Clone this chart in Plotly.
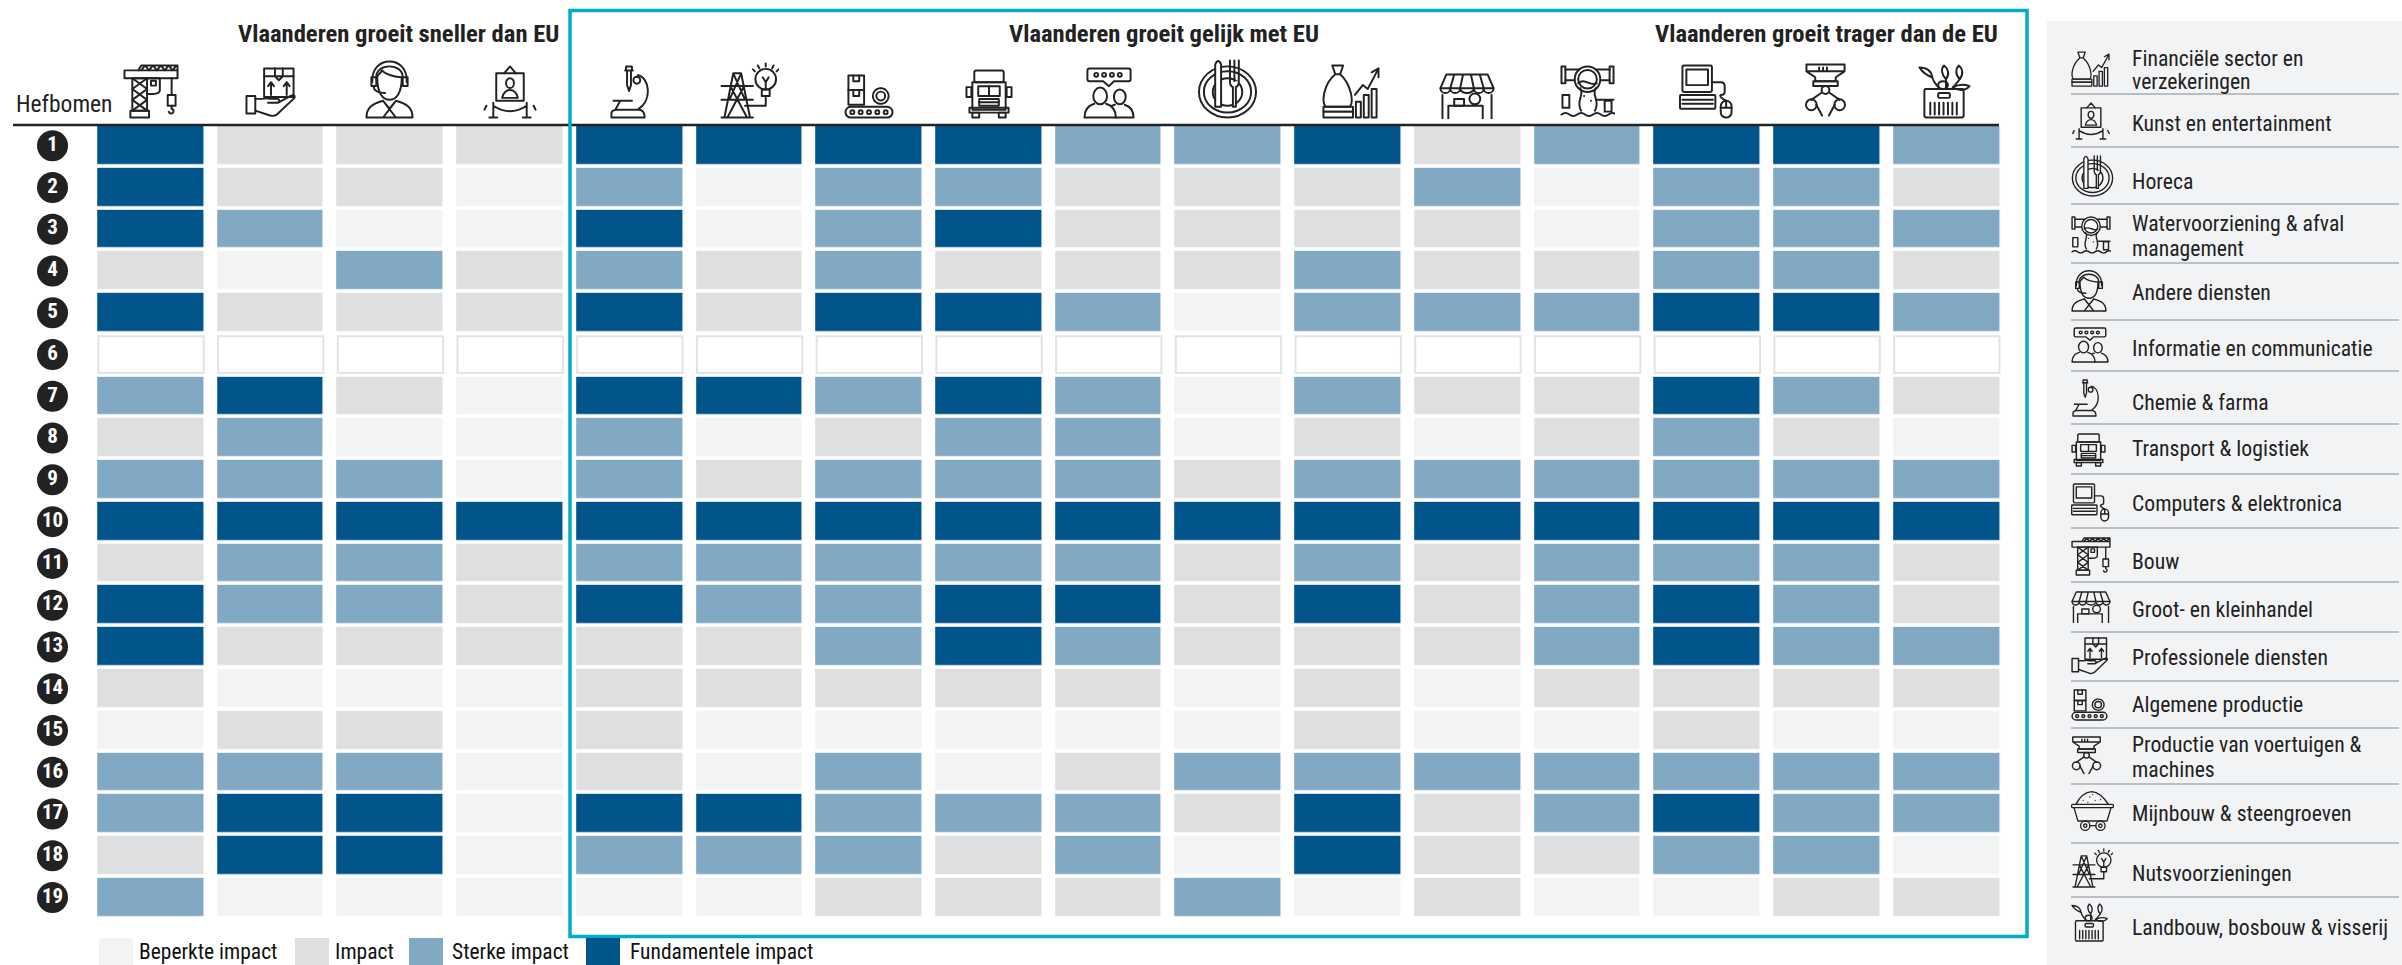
import base64
import plotly.graph_objects as go

W, H = 2402, 965
NARROW = "Roboto, sans-serif"

# ---------------------------- data ----------------------------
rows = [str(i) for i in range(1, 20)]
levels = ["Beperkte impact", "Impact", "Sterke impact", "Fundamentele impact"]
level_colors = ["#F2F3F5", "#DEDFE1", "#82A9C3", "#01558B"]

bouw = [4, 4, 4, 2, 4, None, 3, 2, 3, 4, 2, 4, 4, 2, 1, 3, 3, 2, 3]
professioneel = [2, 2, 3, 1, 2, None, 4, 3, 3, 4, 3, 3, 2, 1, 2, 3, 4, 4, 1]
andere = [2, 2, 1, 3, 2, None, 2, 1, 3, 4, 3, 3, 2, 1, 2, 3, 4, 4, 1]
kunst = [2, 1, 1, 2, 2, None, 1, 1, 1, 4, 2, 2, 2, 1, 1, 1, 1, 1, 1]
chemie = [4, 3, 4, 3, 4, None, 4, 3, 3, 4, 3, 4, 2, 2, 2, 2, 4, 3, 1]
nuts = [4, 1, 1, 2, 2, None, 4, 1, 2, 4, 3, 3, 2, 2, 1, 1, 4, 3, 1]
algemeen = [4, 3, 3, 3, 4, None, 3, 2, 3, 4, 3, 3, 3, 2, 1, 3, 3, 3, 2]
transport = [4, 3, 4, 2, 4, None, 4, 3, 3, 4, 3, 4, 4, 2, 1, 1, 3, 2, 2]
informatie = [3, 2, 2, 2, 3, None, 3, 3, 3, 4, 3, 4, 3, 2, 1, 2, 3, 3, 2]
horeca = [3, 2, 2, 2, 1, None, 1, 1, 2, 4, 2, 2, 2, 1, 1, 3, 2, 1, 3]
financieel = [4, 2, 2, 3, 3, None, 3, 2, 3, 4, 3, 4, 2, 2, 2, 3, 4, 4, 1]
handel = [2, 3, 2, 2, 3, None, 2, 1, 3, 4, 2, 2, 2, 1, 1, 3, 2, 2, 2]
water = [3, 1, 1, 2, 3, None, 2, 2, 3, 4, 3, 3, 3, 2, 1, 3, 3, 2, 1]
computers = [4, 3, 3, 3, 4, None, 4, 3, 3, 4, 3, 4, 4, 2, 2, 3, 4, 3, 1]
voertuigen = [4, 3, 3, 3, 4, None, 3, 2, 3, 4, 3, 3, 3, 2, 1, 3, 3, 3, 2]
landbouw = [3, 2, 3, 2, 3, None, 2, 1, 3, 4, 2, 2, 3, 2, 1, 3, 3, 1, 2]

columns = [bouw, professioneel, andere, kunst, chemie, nuts, algemeen, transport,
           informatie, horeca, financieel, handel, water, computers, voertuigen, landbouw]
col_ids = list(range(16))
group_titles = ["Vlaanderen groeit sneller dan EU", "Vlaanderen groeit gelijk met EU",
                "Vlaanderen groeit trager dan de EU"]
side_labels = [
    "Financiële sector en", "verzekeringen", "Kunst en entertainment", "Horeca",
    "Watervoorziening & afval", "management", "Andere diensten", "Informatie en communicatie",
    "Chemie & farma", "Transport & logistiek", "Computers & elektronica", "Bouw",
    "Groot- en kleinhandel", "Professionele diensten", "Algemene productie",
    "Productie van voertuigen &", "machines", "Mijnbouw & steengroeven", "Nutsvoorzieningen",
    "Landbouw, bosbouw & visserij",
]

# ---------------------------- icons (line art) ----------------------------
ICONS = {
"bouw": (112, 110, '<path d="M2 12H110V28H2zM30 12L36 2H110V12M36 12L44 2L52 12L60 2L68 12L76 2L84 12L92 2L100 12L108 2"/><rect x="18" y="28" width="30" height="66"/><path d="M18 28L48 50M48 28L18 50M18 50L48 72M48 50L18 72M18 72L48 94M48 72L18 94"/><rect x="14" y="94" width="38" height="14"/><path d="M48 28H74V52Q74 60 60 60H48"/><rect x="56" y="33" width="10" height="10"/><path d="M98 28V62"/><rect x="90" y="62" width="16" height="22"/><path d="M98 84V90a5 5 0 1 1 -6 6"/>'),
"prof": (104, 102, '<rect x="38" y="2" width="60" height="58"/><path d="M38 18H98M60 2V18M76 2V18M60 18L68 26L76 18M52 56V32M46 38L52 30L58 38M84 56V32M78 38L84 30L90 38"/><rect x="2" y="58" width="18" height="36"/><path d="M20 64H34Q42 62 50 64H66Q72 66 66 72H46M66 72L92 58Q102 54 100 62L64 96Q58 100 50 98L20 88"/>'),
"andere": (98, 120, '<path d="M14 46C10 -10 88 -10 84 46M22 38C20 6 78 6 76 38"/><path d="M24 36C24 70 36 82 49 82C62 82 74 70 74 36C60 36 40 30 34 22C30 30 24 30 24 36z"/><rect x="12" y="36" width="10" height="18"/><rect x="76" y="36" width="10" height="18"/><path d="M16 54Q18 68 40 68"/><path d="M2 118C2 98 14 90 36 84L49 100L62 84C84 90 96 98 96 118zM36 84L62 118M62 84L36 118"/>'),
"kunst": (112, 108, '<rect x="28" y="16" width="56" height="56"/><path d="M44 16L56 2L68 16"/><ellipse cx="56" cy="36" rx="8" ry="10"/><path d="M40 66Q44 50 56 50Q68 50 72 66z"/><path d="M22 76V106M14 106H30M90 76V106M82 106H98M22 82Q56 104 90 82M8 82L4 90M104 82L108 90"/>'),
"chemie": (78, 108, '<path d="M32 2H44V10H32zM30 10H46M34 10V40L38 52L42 40V10"/><circle cx="54" cy="30" r="7"/><path d="M56 20C80 24 86 70 58 88M2 106V96Q4 90 14 90H58Q70 90 70 106zM6 72H44M20 72L10 90"/>'),
"nuts": (118, 114, '<path d="M26 22H42L60 112M26 22L8 112M2 48H66M2 76H66M26 22L50 76M42 22L18 76M20 48L54 112M48 48L14 112M2 112H66"/><circle cx="92" cy="34" r="21"/><path d="M84 55H100V68H84zM92 68V88H50M86 30L92 40L98 30M92 40V55M92 2V8M76 6L79 12M108 6L105 12M66 14L70 18M118 14L114 18"/>'),
"algemeen": (100, 90, '<rect x="8" y="2" width="32" height="30"/><rect x="8" y="32" width="32" height="30"/><path d="M18 2V14H30V2M18 32V44H30V32"/><circle cx="74" cy="44" r="9"/><circle cx="74" cy="44" r="16" stroke-dasharray="6 3"/><rect x="2" y="66" width="96" height="22" rx="11"/><circle cx="16" cy="77" r="4"/><circle cx="33" cy="77" r="4"/><circle cx="50" cy="77" r="4"/><circle cx="67" cy="77" r="4"/><circle cx="84" cy="77" r="4"/>'),
"transport": (96, 100, '<rect x="18" y="2" width="60" height="24" rx="4"/><rect x="14" y="26" width="68" height="56"/><rect x="26" y="34" width="44" height="20"/><path d="M48 34V54"/><rect x="28" y="60" width="40" height="14"/><path d="M28 67H68"/><rect x="8" y="78" width="80" height="10"/><rect x="14" y="88" width="14" height="10"/><rect x="68" y="88" width="14" height="10"/><rect x="2" y="36" width="10" height="20"/><rect x="84" y="36" width="10" height="20"/>'),
"info": (104, 104, '<path d="M12 2H92Q96 2 96 6V24Q96 28 92 28H62L52 38L40 28H12Q8 28 8 24V6Q8 2 12 2z"/><circle cx="26" cy="15" r="4"/><circle cx="42" cy="15" r="4"/><circle cx="58" cy="15" r="4"/><circle cx="74" cy="15" r="4"/><ellipse cx="34" cy="58" rx="14" ry="17"/><path d="M2 102Q2 80 22 74M46 74Q66 80 66 102H2"/><ellipse cx="74" cy="60" rx="12" ry="15"/><path d="M66 102H102Q102 82 84 76M64 76L58 78"/>'),
"horeca": (122, 120, '<ellipse cx="61" cy="66" rx="58" ry="52"/><ellipse cx="61" cy="66" rx="48" ry="42"/><ellipse cx="61" cy="66" rx="30" ry="28"/><path d="M36 96V10Q42 -4 48 10V96zM66 2V44M84 2V44M75 2V44M66 44Q66 54 72 56V96H78V56Q84 54 84 44" fill="#ffffff"/>'),
"fin": (116, 114, '<path d="M20 6H42L36 24H26zM26 24C2 44 -2 80 6 90H56C64 80 58 44 36 24"/><rect x="2" y="90" width="60" height="10"/><rect x="2" y="100" width="60" height="12"/><rect x="68" y="80" width="10" height="32"/><rect x="84" y="66" width="10" height="46"/><rect x="100" y="54" width="10" height="58"/><path d="M66 66L82 46L92 54L112 16M100 20L114 12L114 30"/>'),
"groot": (112, 92, '<path d="M14 2H98L110 30H2zM30 2L22 30M48 2L42 30M64 2L70 30M82 2L90 30"/><path d="M2 30a10 10 0 0 0 20 0a10 10 0 0 0 20 0a14 10 0 0 0 28 0a10 10 0 0 0 20 0a10 10 0 0 0 20 0"/><path d="M6 44V92M106 44V92M18 92V66H88V92"/><rect x="30" y="52" width="20" height="14"/><circle cx="72" cy="52" r="11"/>'),
"water": (110, 108, '<rect x="2" y="2" width="8" height="34"/><rect x="100" y="2" width="8" height="34"/><path d="M10 8H100M10 30H100"/><circle cx="55" cy="28" r="26" fill="#ffffff"/><circle cx="55" cy="28" r="19"/><path d="M36 36C50 24 60 44 74 36M40 46C50 60 30 72 42 92M72 46C62 60 82 72 70 92M48 62h.1M62 72h.1"/><rect x="4" y="60" width="14" height="26"/><rect x="90" y="72" width="14" height="22"/><path d="M2 100q8 -6 16 0t16 0t16 0t16 0t16 0t16 0t16 0M76 70H108"/>'),
"computers": (112, 110, '<rect x="6" y="2" width="60" height="54" rx="3"/><rect x="14" y="10" width="44" height="32"/><rect x="1" y="62" width="72" height="28" rx="2"/><path d="M6 72H68M6 80H68" stroke-dasharray="4 2"/><path d="M66 36H84Q92 36 92 44V56Q92 62 84 62Q80 66 95 74"/><rect x="84" y="74" width="22" height="34" rx="11"/><path d="M84 88H106M95 74V88"/>'),
"voertuigen": (86, 112, '<path d="M4 2H82V16L64 28V36H22V28L4 16zM30 8V14M38 8V14M46 8V14M4 16H82"/><rect x="18" y="36" width="50" height="10"/><circle cx="43" cy="54" r="8"/><path d="M34 60L14 74M52 60L72 74M24 84L36 106M62 84L50 106"/><circle cx="14" cy="84" r="11"/><circle cx="72" cy="84" r="11"/>'),
"landbouw": (108, 110, '<rect x="12" y="50" width="80" height="58" rx="3"/><rect x="40" y="58" width="24" height="10" rx="3"/><path d="M24 78V102M33 78V102M42 78V102M51 78V102M60 78V102M69 78V102M78 78V102"/><path d="M44 50C34 40 30 34 28 26M56 50V30M68 50C74 42 78 38 84 30"/><path d="M28 26C10 20 6 12 2 6C16 6 26 12 28 26zM56 30C46 20 46 8 52 2C60 8 64 20 56 30zM84 30C74 20 76 8 82 2C90 8 92 20 84 30zM70 46C82 40 94 40 104 44C96 54 80 54 70 46z"/><ellipse cx="50" cy="42" rx="10" ry="8"/>'),
"mijn": (128, 124, '<path d="M14 42C20 30 36 6 62 4C86 6 104 30 112 42M36 30h.1M56 20h.1M72 30h.1M88 28h.1M50 36h.1M64 12h.1"/><rect x="1" y="42" width="126" height="10" rx="3"/><path d="M8 52L20 92H108L120 52"/><circle cx="42" cy="106" r="14"/><circle cx="42" cy="106" r="5"/><circle cx="88" cy="106" r="14"/><circle cx="88" cy="106" r="5"/><path d="M56 106H74"/>'),
}

def icon_uri(name):
    w, h, body = ICONS[name]
    svg = (f'<svg xmlns="http://www.w3.org/2000/svg" width="{w*2}" height="{h*2}" viewBox="-1 -1 {w+2} {h+2}" '
           f'preserveAspectRatio="none"><g fill="none" stroke="#222222" stroke-width="4" '
           f'stroke-linejoin="round" stroke-linecap="round">{body}</g></svg>')
    return "data:image/svg+xml;base64," + base64.b64encode(svg.encode()).decode()

top_icons = [("bouw", 123, 179, 64, 119), ("prof", 245, 297, 67, 118), ("andere", 365, 414, 59, 119),
             ("kunst", 482, 538, 65, 119), ("chemie", 610, 649, 65, 119), ("nuts", 720, 779, 62, 119),
             ("algemeen", 844, 894, 74, 119), ("transport", 965, 1013, 69, 119), ("info", 1083, 1135, 67, 119),
             ("horeca", 1197, 1258, 59, 119), ("fin", 1322, 1380, 62, 119), ("groot", 1439, 1495, 73, 119),
             ("water", 1560, 1615, 65, 119), ("computers", 1679, 1735, 64, 119), ("voertuigen", 1804, 1847, 63, 119),
             ("landbouw", 1918, 1972, 64, 119)]
side_icons = [("fin", 2071, 2110, 50, 87), ("kunst", 2071, 2111, 102, 140), ("horeca", 2071, 2114, 155, 197),
              ("water", 2071, 2111, 216, 255), ("andere", 2071, 2107, 269, 312), ("info", 2071, 2109, 327, 363),
              ("chemie", 2072, 2099, 379, 417), ("transport", 2071, 2106, 433, 467), ("computers", 2071, 2111, 483, 522),
              ("bouw", 2071, 2111, 537, 576), ("groot", 2071, 2111, 591, 623), ("prof", 2071, 2109, 637, 675),
              ("algemeen", 2071, 2108, 689, 721), ("voertuigen", 2071, 2102, 736, 776), ("mijn", 2071, 2114, 790, 832),
              ("nuts", 2072, 2113, 848, 888), ("landbouw", 2071, 2109, 903, 942)]

# ---------------------------- page geometry ----------------------------
def px(x): return x / W
def py(y): return 1 - y / H
COL0, COL_STEP = 151.0, 119.72
ROW0, ROW_STEP = 145.7, 41.77
XRANGE = [(0 - COL0) / COL_STEP, (W - COL0) / COL_STEP]
YRANGE = [(H - ROW0) / ROW_STEP, (0 - ROW0) / ROW_STEP]
label_x = (52.5 - COL0) / COL_STEP

fig = go.Figure()

z = [[col[r] for col in columns] for r in range(len(rows))]
n = len(level_colors)
colorscale = []
for i, c in enumerate(level_colors):
    colorscale += [[i / n, c], [(i + 1) / n, c]]
fig.add_trace(go.Heatmap(z=z, x=col_ids, y=list(range(len(rows))), zmin=0.5, zmax=4.5,
                         colorscale=colorscale, showscale=False, xgap=13.7, ygap=3.7,
                         hoverongaps=False))
fig.add_trace(go.Scatter(x=[label_x] * len(rows), y=list(range(len(rows))), mode="markers+text",
                         text=rows, textposition="middle center",
                         textfont=dict(family=NARROW, size=21, color="#FFFFFF", weight="bold"),
                         marker=dict(size=31, color="#222222", line=dict(width=0)),
                         showlegend=False, cliponaxis=False))

shapes = []
# side panel
shapes.append(dict(type="rect", xref="paper", yref="paper", layer="below", x0=px(2047), x1=1, y0=py(21), y1=0,
                   fillcolor="#F2F3F5", line=dict(width=0)))
for y in [94, 147, 204, 263, 320, 371, 424, 474, 528, 582, 632, 681, 728, 784, 843, 897]:
    shapes.append(dict(type="line", xref="paper", yref="paper", x0=px(2071), x1=px(2399), y0=py(y), y1=py(y),
                       line=dict(color="#A9ACB2", width=1.5)))
# empty row 6
for i in col_ids:
    shapes.append(dict(type="rect", xref="x", yref="y", x0=i - 0.44, x1=i + 0.44, y0=5 - 0.44, y1=5 + 0.44,
                       fillcolor="#FFFFFF", line=dict(color="#E2E3E5", width=2)))
# header rule and group box
shapes.append(dict(type="line", xref="paper", yref="paper", x0=px(13), x1=px(1999), y0=py(125), y1=py(125),
                   line=dict(color="#222222", width=2.5)))
shapes.append(dict(type="rect", xref="paper", yref="paper", x0=px(570), x1=px(2027), y0=py(10.5), y1=py(936.5),
                   line=dict(color="#00ACC8", width=3.5), fillcolor="rgba(0,0,0,0)"))
# legend swatches
for (x0, x1), c in zip([(99, 133), (295, 329), (409, 443), (586, 620)], level_colors):
    shapes.append(dict(type="rect", xref="paper", yref="paper", x0=px(x0), x1=px(x1), y0=py(938), y1=0,
                       fillcolor=c, line=dict(width=0)))

def note(text, x, y, size, bold=False, color="#222222", pad=1):
    return dict(text=text, xref="paper", yref="paper", x=px(x), y=py(y), xanchor="left", yanchor="middle",
                showarrow=False, align="left", borderpad=pad, borderwidth=0,
                font=dict(family=NARROW, size=size, color=color, weight="bold" if bold else "normal"))

anns = [note(group_titles[0], 237, 34, 24.6, True),
        note(group_titles[1], 1008, 34, 24.6, True),
        note(group_titles[2], 1654, 34, 24.6, True),
        note("Hefbomen", 15, 104, 23.5)]
for x, lab in zip([139, 335, 452, 630], levels):
    anns.append(note(lab, x, 951.5, 21.5, color="#111111", pad=0))
side_y = [59, 82, 123, 181, 223, 249, 292, 348, 402, 448, 503, 561, 609, 657, 704, 744, 769, 813, 873, 927]
for lab, y in zip(side_labels, side_y):
    anns.append(note(lab, 2131, y, 21.7))

images = []
for name, x0, x1, y0, y1 in top_icons + side_icons:
    images.append(dict(source=icon_uri(name), xref="paper", yref="paper", x=px(x0), y=py(y0),
                       sizex=(x1 - x0) / W, sizey=(y1 - y0) / H, xanchor="left", yanchor="top",
                       sizing="stretch", layer="above"))

fig.update_layout(
    width=W, height=H, autosize=False, margin=dict(l=0, r=0, t=0, b=0), paper_bgcolor="#FFFFFF",
    plot_bgcolor="#FFFFFF", showlegend=False, shapes=shapes, annotations=anns, images=images,
    xaxis=dict(domain=[0, 1], range=XRANGE, visible=False, fixedrange=True),
    yaxis=dict(domain=[0, 1], range=YRANGE, visible=False, fixedrange=True),
    font=dict(family=NARROW),
)
POST = """
document.body.style.margin='0';document.documentElement.style.overflow='hidden';
var s=document.createElement('style');s.textContent='svg text{font-stretch:75%!important}';document.head.appendChild(s);
"""
fig.write_html("out.html", config=dict(displayModeBar=False), post_script=POST)
